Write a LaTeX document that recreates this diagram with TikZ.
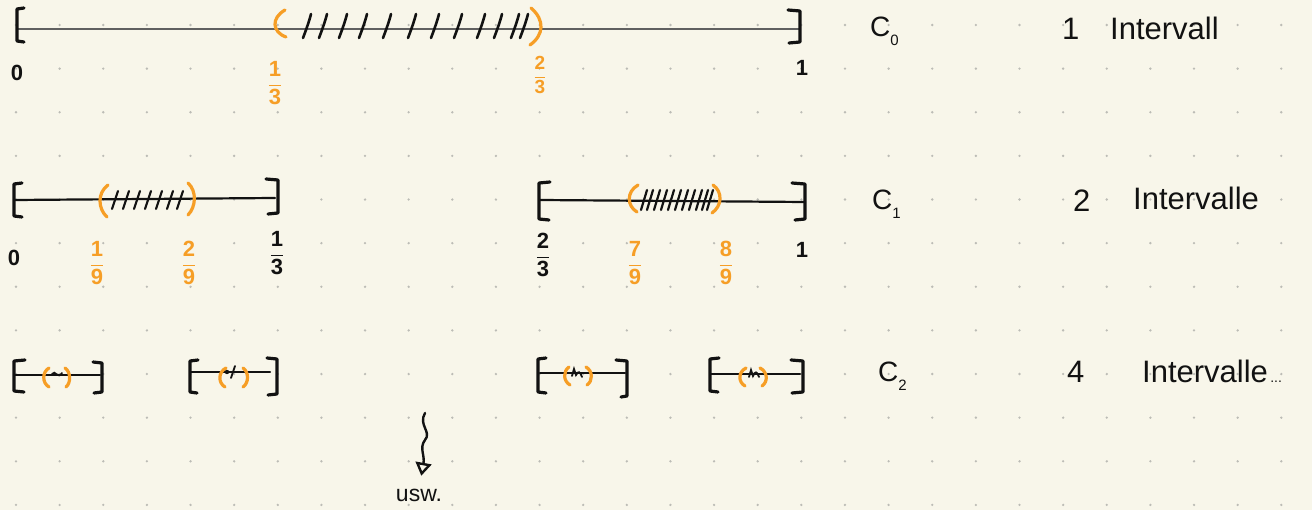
\documentclass[tikz,border=0pt]{standalone}
\usepackage{fontspec}
\usepackage{amsmath}
\setmainfont{Liberation Sans}
\usetikzlibrary{arrows.meta}
\definecolor{paper}{RGB}{248,246,234}
\definecolor{dotc}{RGB}{188,188,182}
\definecolor{orng}{RGB}{246,158,38}
\definecolor{ink}{RGB}{18,18,18}
\newcommand{\frc}[2]{$\dfrac{\text{\bfseries #1}}{\text{\bfseries #2}}$}
\newcommand{\Csub}[1]{C\raisebox{-0.3em}{\fontsize{15}{15}\selectfont #1}}
\begin{document}
\begin{tikzpicture}[x=1pt,y=-1pt,
  axis/.style={ink,line width=2.2pt,line cap=round},
  brk/.style={ink,line width=3.2pt,line cap=round,line join=round},
  paren/.style={orng,line width=3.2pt,line cap=round},
  hatch/.style={ink,line width=2.6pt,line cap=round},
  lbl/.style={font=\fontsize{22}{22}\selectfont\bfseries,inner sep=0pt,text=ink},
  olbl/.style={lbl,text=orng},
  big/.style={font=\fontsize{31}{31}\selectfont,inner sep=0pt,anchor=base west,text=ink},
  cname/.style={font=\fontsize{28}{28}\selectfont,inner sep=0pt,anchor=base west,text=ink}
]
\fill[paper] (0,0) rectangle (1312,510);
\useasboundingbox (0,0) rectangle (1312,510);
% dot grid
\foreach \i in {0,...,29}{
  \foreach \j in {0,...,11}{
    \fill[dotc] ({16+43.63*\i},{25+43.63*\j}) circle (1.3pt);
  }
}

% ---------------- C0 ----------------
\draw[axis,gray!75!black] (17,29) -- (799,29);
\draw[brk] (24,8) -- (17,9) -- (17,41) -- (24,42);
\draw[brk] (788,10) -- (800,11) -- (800,42) -- (789,43);
\draw[paren] (285,10) .. controls (271,18) and (272,32) .. (286,37);
\draw[paren] (531,8) .. controls (545,20) and (544,35) .. (530,45);
\foreach \x in {307,323,343,363,387,412,435,458,481,498,515,524}{
  \draw[hatch] (\x-4,38) .. controls (\x-1,30) and (\x+2,22) .. (\x+4,14);
}
\node[lbl] (c0a) at (17,73) {0};
\node[olbl] (c0b) at (275,83) {\frc{1}{3}};
\node[olbl,font=\fontsize{19}{19}\selectfont\bfseries] (c0c) at (540,75) {\frc{2}{3}};
\node[lbl] (c0d) at (802,68) {1};
\node[cname] (C0) at (870,37) {\Csub{0}};
\node[big] (n1) at (1062,40) {1};
\node[big] (t1) at (1110,40) {Intervall};

% ---------------- C1 ----------------
\draw[axis] (15,200) -- (275,198);
\draw[brk] (22,183) -- (14,184) -- (14,216) -- (22,217);
\draw[brk] (266,179) -- (278,180) -- (278,213) -- (268,214);
\draw[paren] (108,185) .. controls (97,193) and (98,209) .. (107,217);
\draw[paren] (188,183) .. controls (197,191) and (196,207) .. (188,215);
\foreach \x in {115,126,137,148,159,170,180}{
  \draw[hatch,line width=2.2pt] (\x-3,209) .. controls (\x-1,203) and (\x+1,197) .. (\x+3,191);
}
\draw[axis] (540,200) -- (805,202);
\draw[brk] (550,182) -- (539,183) -- (539,219) -- (549,220);
\draw[brk] (792,183) -- (805,184) -- (805,219) -- (795,220);
\draw[paren] (638,185) .. controls (626,192) and (627,206) .. (637,212);
\draw[paren] (713,185) .. controls (723,192) and (722,206) .. (712,213);
\foreach \x in {644,650,657,664,671,678,685,692,699,705,710}{
  \draw[hatch,line width=2.2pt] (\x-3,210) .. controls (\x-1,203) and (\x+1,197) .. (\x+3,190);
}
\node[lbl] (c1a) at (14,258) {0};
\node[olbl] (c1b) at (97,263) {\frc{1}{9}};
\node[olbl] (c1c) at (189,263) {\frc{2}{9}};
\node[lbl] (c1d) at (277,253) {\frc{1}{3}};
\node[lbl] (c1e) at (543,255) {\frc{2}{3}};
\node[olbl] (c1f) at (635,263) {\frc{7}{9}};
\node[olbl] (c1g) at (726,263) {\frc{8}{9}};
\node[lbl] (c1h) at (802,250) {1};
\node[cname] (C1) at (872,210) {\Csub{1}};
\node[big] (n2) at (1073,212) {2};
\node[big] (t2) at (1133,210) {Intervalle};

% ---------------- C2 ----------------
% interval 1
\draw[axis] (15,375) -- (100,375);
\draw[brk] (25,360) -- (14,361) -- (14,391) -- (24,392);
\draw[brk] (93,362) -- (102,363) -- (102,392) -- (94,393);
\draw[paren] (49,368) .. controls (42,372) and (42,383) .. (49,387);
\draw[paren] (65,368) .. controls (71,372) and (71,383) .. (66,387);
\draw[hatch,line width=1.8pt] (52,374) .. controls (55,369) and (58,380) .. (62,373);
% interval 2
\draw[axis] (191,372) -- (270,372);
\draw[brk] (198,360) -- (190,361) -- (190,392) -- (197,393);
\draw[brk] (267,358) -- (277,359) -- (277,394) -- (268,395);
\draw[paren] (226,368) .. controls (218,372) and (218,383) .. (225,387);
\draw[paren] (243,368) .. controls (249,372) and (249,383) .. (243,387);
\draw[hatch,line width=1.8pt] (231,378) -- (235,366);
\fill[ink] (227,372) circle (2.2pt);
% interval 3
\draw[axis] (540,373) -- (625,373);
\draw[brk] (546,358) -- (538,359) -- (538,392) -- (546,393);
\draw[brk] (616,360) -- (627,361) -- (627,396) -- (621,397);
\draw[paren] (569,367) .. controls (563,371) and (563,381) .. (570,385);
\draw[paren] (586,367) .. controls (593,371) and (593,381) .. (587,385);
\draw[hatch,line width=1.8pt] (572,376) -- (574,369) -- (576,375) .. controls (578,371) and (580,371) .. (582,377);
% interval 4
\draw[axis] (711,374) -- (800,374);
\draw[brk] (719,358) -- (710,359) -- (710,391) -- (718,392);
\draw[brk] (791,360) -- (803,361) -- (803,392) -- (792,393);
\draw[paren] (746,368) .. controls (738,372) and (738,382) .. (745,386);
\draw[paren] (760,368) .. controls (768,372) and (768,382) .. (762,386);
\draw[hatch,line width=1.8pt] (749,377) -- (751,370) -- (753,376) .. controls (755,371) and (757,371) .. (759,377);
\node[cname] (C2) at (878,382) {\Csub{2}};
\node[big] (n4) at (1067,383) {4};
\node[big] (t4) at (1142,383) {Intervalle\fontsize{14}{14}\selectfont\,...};

% ---------------- usw ----------------
\coordinate (w0) at (425,413);
\node[lbl,font=\fontsize{23}{23}\selectfont] (usw) at (419,495) {usw.};
\draw[ink,line width=2.4pt,line cap=round,shorten >=13pt,
      -{Triangle[open,length=13pt,width=16pt,line width=2.4pt]}]
  (w0) .. controls (418,425) and (432,432) .. (425,440)
       .. controls (419,448) and (425,455) .. (usw.north);
\end{tikzpicture}
\end{document}
